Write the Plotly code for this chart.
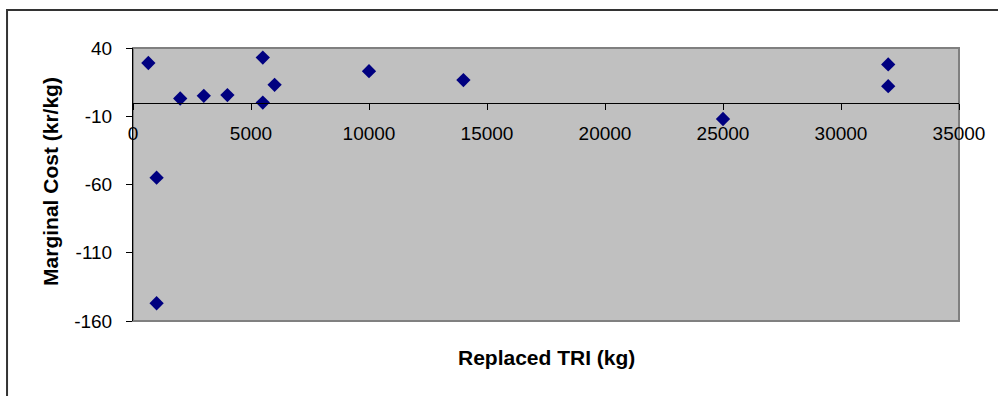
import plotly.graph_objects as go

# Data
replaced_tri_kg = [650, 1000, 1000, 2000, 3000, 4000, 5500, 5500, 6000, 10000, 14000, 25000, 32000, 32000]
marginal_cost = [29, -55, -147, 3, 5, 5.5, 33, 0, 13, 23, 16.5, -12, 28, 12]

x_ticks = [0, 5000, 10000, 15000, 20000, 25000, 30000, 35000]
x_tick_labels = ["0", "5000", "10000", "15000", "20000", "25000", "30000", "35000"]
y_ticks = [-160, -110, -60, -10, 40]
y_tick_labels = ["-160", "-110", "-60", "-10", "40"]

x_title = "Replaced TRI (kg)"
y_title = "Marginal Cost (kr/kg)"

FONT = "Liberation Sans, Arial, sans-serif"
X_RANGE = [0, 35000]
Y_RANGE = [-160, 40]
zero_pos = (0 - Y_RANGE[0]) / (Y_RANGE[1] - Y_RANGE[0])

fig = go.Figure()
fig.add_trace(go.Scatter(
    x=replaced_tri_kg, y=marginal_cost, mode="markers",
    marker=dict(symbol="diamond", size=11, color="#000080", line=dict(width=0)),
    showlegend=False, hoverinfo="x+y",
))

common_x = dict(range=X_RANGE, tickvals=x_ticks, ticktext=x_tick_labels, showgrid=False,
                zeroline=False, anchor="free", position=zero_pos, tickcolor="black",
                ticklen=6, tickwidth=1)
common_y = dict(range=Y_RANGE, tickvals=y_ticks, ticktext=y_tick_labels, showgrid=False,
                zeroline=False, tickcolor="black", ticklen=6, tickwidth=1)

fig.update_layout(
    width=998, height=396,
    margin=dict(l=133, r=39, t=48, b=75, pad=0),
    paper_bgcolor="white", plot_bgcolor="#C0C0C0",
    font=dict(family=FONT, color="black"),
    xaxis=dict(**common_x, ticks="outside", showline=True, linecolor="black", linewidth=1,
               tickfont=dict(size=19, family=FONT, color="black"),
               ticklabelstandoff=8, layer="above traces"),
    xaxis2=dict(**common_x, overlaying="x", ticks="inside", showline=False,
                showticklabels=False),
    yaxis=dict(**common_y, ticks="outside", showline=True, linecolor="black", linewidth=1,
               tickfont=dict(size=19, family=FONT, color="black"),
               ticklabelstandoff=10, layer="above traces"),
    yaxis2=dict(**common_y, overlaying="y", side="left", ticks="inside",
                showline=False, showticklabels=False),
    shapes=[
        dict(type="rect", xref="paper", yref="paper", x0=0, x1=1, y0=0, y1=1,
             line=dict(color="#808080", width=2), layer="below"),
        dict(type="rect", xref="paper", yref="paper", x0=-0.1525, x1=1.1, y0=-0.5, y1=1.139,
             line=dict(color="#333333", width=2), layer="above"),
    ],
    annotations=[
        dict(text=f"<b>{x_title}</b>", xref="paper", yref="paper", x=0.5, y=-0.1355,
             xanchor="center", yanchor="middle", showarrow=False,
             font=dict(size=21, family=FONT, color="black")),
        dict(text=f"<b>{y_title}</b>", xref="paper", yref="paper", x=-0.0993, y=0.513,
             xanchor="center", yanchor="middle", showarrow=False, textangle=-90,
             font=dict(size=21, family=FONT, color="black")),
    ],
)

fig.write_html("out.html")
